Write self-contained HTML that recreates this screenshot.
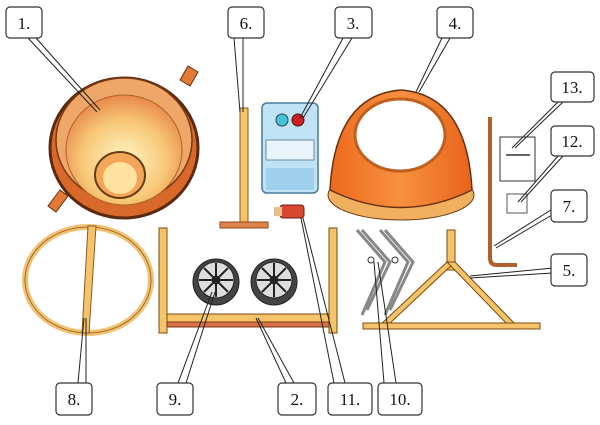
<!DOCTYPE html>
<html><head><meta charset="utf-8"><style>
html,body{margin:0;padding:0;background:#fff;}
svg{display:block;}
text{font-family:"Liberation Serif",serif;font-size:17px;fill:#111;}
</style></head><body>
<svg width="600" height="425" viewBox="0 0 600 425" xmlns="http://www.w3.org/2000/svg">
<defs>
<radialGradient id="drumIn" cx="0.5" cy="0.6" r="0.6"><stop offset="0" stop-color="#fff6c8"/><stop offset="0.6" stop-color="#f7c878"/><stop offset="1" stop-color="#e8894a"/></radialGradient>
<linearGradient id="cone" x1="0" y1="0" x2="1" y2="0"><stop offset="0" stop-color="#ee6a1e"/><stop offset="0.5" stop-color="#f7913f"/><stop offset="1" stop-color="#e8641a"/></linearGradient>
</defs>
<!-- Drum 1 -->
<ellipse cx="124" cy="148" rx="74" ry="70" fill="#d9692a" stroke="#5a2a10" stroke-width="3"/>
<ellipse cx="124" cy="140" rx="68" ry="62" fill="#eea768" stroke="#7a3a10" stroke-width="1.5"/>
<ellipse cx="124" cy="150" rx="58" ry="55" fill="url(#drumIn)" stroke="#b0622a" stroke-width="1"/>
<ellipse cx="120" cy="175" rx="25" ry="23" fill="#f2a659" stroke="#6a3a10" stroke-width="2"/>
<ellipse cx="120" cy="178" rx="17" ry="16" fill="#ffe2a0"/>
<path d="M180 80 l8 -14 l10 6 l-8 14z" fill="#e07a35" stroke="#6a3010"/>
<path d="M60 190 l-12 16 l8 6 l12 -16z" fill="#e07a35" stroke="#6a3010"/>
<!-- Pole 6 -->
<rect x="240" y="108" width="8" height="115" fill="#f5c46a" stroke="#8a5a20"/>
<rect x="220" y="222" width="48" height="6" fill="#e0814a" stroke="#8a4a20"/>
<!-- Box 3 -->
<rect x="262" y="103" width="56" height="90" rx="5" fill="#bfe3f5" stroke="#4a7a9a" stroke-width="1.5"/>
<rect x="266" y="140" width="48" height="20" fill="#e8f4fa" stroke="#6a8aa0"/>
<circle cx="282" cy="120" r="6" fill="#4cc0d8" stroke="#1a4a5a"/>
<circle cx="298" cy="120" r="6" fill="#d02020" stroke="#4a1010"/>
<rect x="266" y="168" width="48" height="22" fill="#9fd0ee"/>
<!-- Plug 11 -->
<rect x="280" y="205" width="24" height="13" rx="3" fill="#d84830" stroke="#6a1a10"/>
<rect x="274" y="207" width="8" height="9" fill="#e8c090"/>
<!-- Cone 4 -->
<ellipse cx="401" cy="195" rx="73" ry="25" fill="#f0b060" stroke="#6a3a10"/>
<path d="M330 190 Q335 95 401 90 Q467 95 472 190 Q401 225 330 190z" fill="url(#cone)" stroke="#6a3010" stroke-width="1.5"/>
<ellipse cx="400" cy="135" rx="45" ry="36" fill="#fff" stroke="#c06020" stroke-width="3"/>
<!-- Rod 7 -->
<path d="M490 117 L490 258 Q490 265 497 265 L517 265" fill="none" stroke="#b0602a" stroke-width="4"/>
<!-- Doc 13, 12 -->
<rect x="500" y="137" width="35" height="44" fill="#fff" stroke="#333"/>
<line x1="506" y1="155" x2="530" y2="155" stroke="#333" stroke-width="1.5"/>
<rect x="507" y="194" width="20" height="19" fill="#fff" stroke="#555"/>
<!-- Ring 8 -->
<ellipse cx="88" cy="280" rx="63" ry="53" fill="none" stroke="#f2c070" stroke-width="6"/>
<ellipse cx="88" cy="280" rx="63" ry="53" fill="none" stroke="#8a5a20" stroke-width="0.8"/>
<path d="M88 226 L96 226 L89 333 L82 333z" fill="#f5c46a" stroke="#8a5a20"/>
<!-- Frame 2 -->
<rect x="159" y="228" width="8" height="105" fill="#f5c46a" stroke="#7a4a10"/>
<rect x="329" y="228" width="8" height="105" fill="#f5c46a" stroke="#7a4a10"/>
<rect x="167" y="314" width="162" height="8" fill="#f5c46a" stroke="#7a4a10"/>
<rect x="167" y="322" width="162" height="5" fill="#d8704a" stroke="#7a3a10"/>
<!-- Wheels 9 -->
<g stroke="#222"><circle cx="216" cy="282" r="23" fill="#444"/><circle cx="216" cy="280" r="18" fill="#ddd"/><circle cx="216" cy="280" r="4" fill="#666"/>
<path d="M216 263 V297 M199 280 H233 M204 268 L228 292 M228 268 L204 292" stroke-width="2"/></g>
<g stroke="#222"><circle cx="274" cy="282" r="23" fill="#444"/><circle cx="274" cy="280" r="18" fill="#ddd"/><circle cx="274" cy="280" r="4" fill="#666"/>
<path d="M274 263 V297 M257 280 H291 M262 268 L286 292 M286 268 L262 292" stroke-width="2"/></g>
<!-- Legs 10 -->
<g fill="none" stroke="#888" stroke-width="3">
<path d="M357 230 L385 262 L362 315"/><path d="M380 230 L408 262 L385 315"/>
<path d="M362 230 L390 262 L367 310"/><path d="M385 230 L413 262 L390 310"/></g>
<circle cx="371" cy="260" r="3" fill="#fff" stroke="#333"/><circle cx="395" cy="260" r="3" fill="#fff" stroke="#333"/>
<!-- Stand 5 -->
<g fill="#f5c46a" stroke="#7a4a10">
<rect x="447" y="230" width="8" height="40"/>
<path d="M447 262 L455 262 L388 325 L380 325z"/>
<path d="M447 262 L455 262 L516 325 L508 325z"/>
<rect x="363" y="323" width="177" height="6"/></g>
<!-- Leaders -->
<g stroke="#222" stroke-width="1" fill="none">
<path d="M28 38 L97 112 M36 38 L100 110"/>
<path d="M234 38 L240 112 M243 38 L243 112"/>
<path d="M343 38 L300 118 M352 38 L303 118"/>
<path d="M442 38 L416 92 M450 38 L419 92"/>
<path d="M558 102 L512 148 M563 102 L515 148"/>
<path d="M558 156 L518 202 M563 156 L521 202"/>
<path d="M554 208 L494 246 M557 212 L496 248"/>
<path d="M553 268 L470 276 M553 273 L470 278"/>
<path d="M78 383 L84 318 M86 383 L86 318"/>
<path d="M178 383 L212 292 M186 383 L215 292"/>
<path d="M286 383 L256 318 M294 383 L258 318"/>
<path d="M334 383 L301 218 M345 383 L303 218"/>
<path d="M384 383 L374 262 M396 383 L378 262"/>
</g>
<!-- Label boxes -->
<g fill="#fff" stroke="#333" stroke-width="1.2">
<rect x="6" y="7" width="36" height="31" rx="4"/>
<rect x="228" y="7" width="36" height="31" rx="4"/>
<rect x="335" y="7" width="37" height="31" rx="4"/>
<rect x="437" y="7" width="36" height="31" rx="4"/>
<rect x="551" y="72" width="43" height="30" rx="4"/>
<rect x="551" y="126" width="43" height="30" rx="4"/>
<rect x="551" y="190" width="36" height="32" rx="4"/>
<rect x="551" y="254" width="36" height="32" rx="4"/>
<rect x="56" y="383" width="36" height="32" rx="4"/>
<rect x="157" y="383" width="36" height="32" rx="4"/>
<rect x="278" y="383" width="38" height="32" rx="4"/>
<rect x="328" y="383" width="44" height="32" rx="4"/>
<rect x="378" y="383" width="44" height="32" rx="4"/>
</g>
<g text-anchor="middle">
<text x="24" y="29">1.</text>
<text x="246" y="29">6.</text>
<text x="353" y="29">3.</text>
<text x="455" y="29">4.</text>
<text x="572" y="93">13.</text>
<text x="572" y="147">12.</text>
<text x="569" y="212">7.</text>
<text x="569" y="276">5.</text>
<text x="74" y="405">8.</text>
<text x="175" y="405">9.</text>
<text x="297" y="405">2.</text>
<text x="350" y="405">11.</text>
<text x="400" y="405">10.</text>
</g>
</svg>
</body></html>
